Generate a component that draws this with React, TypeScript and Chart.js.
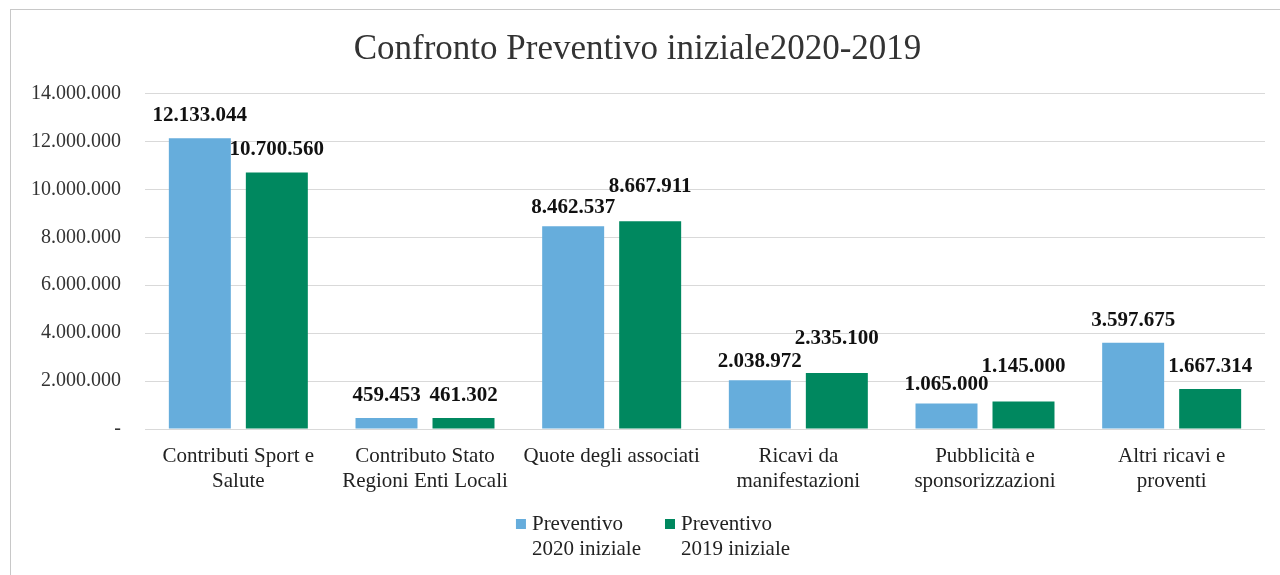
import React, { useEffect, useRef } from "react";
import { Chart, registerables } from "chart.js";

Chart.register(...registerables);

const categories: string[][] = [
  ["Contributi Sport e", "Salute"],
  ["Contributo Stato", "Regioni Enti Locali"],
  ["Quote degli associati"],
  ["Ricavi da", "manifestazioni"],
  ["Pubblicità e", "sponsorizzazioni"],
  ["Altri ricavi e", "proventi"],
];
const preventivo2020 = [12133044, 459453, 8462537, 2038972, 1065000, 3597675];
const preventivo2019 = [10700560, 461302, 8667911, 2335100, 1145000, 1667314];
const seriesLabels: string[][] = [
  ["Preventivo", "2020 iniziale"],
  ["Preventivo", "2019 iniziale"],
];
const titleText = "Confronto Preventivo iniziale2020-2019";
const yMax = 14000000;
const yStep = 2000000;

const FONT = "'Liberation Serif', 'DejaVu Serif', serif";
const BLUE = "#66ADDC";
const GREEN = "#00885F";

function fmt(n: number): string {
  if (n === 0) return "-";
  return String(Math.round(n)).replace(/\B(?=(\d{3})+(?!\d))/g, ".");
}

const framePlugin = {
  id: "frame",
  beforeDraw(chart: any) {
    const ctx = chart.ctx;
    ctx.save();
    ctx.fillStyle = "#ffffff";
    ctx.fillRect(0, 0, chart.width, chart.height);
    ctx.strokeStyle = "#c8c8c8";
    ctx.lineWidth = 1;
    ctx.strokeRect(10.5, 9.5, chart.width + 20, chart.height + 20);
    ctx.restore();
  },
};

const valueLabelPlugin = {
  id: "valueLabels",
  afterDatasetsDraw(chart: any) {
    const ctx = chart.ctx;
    const fontSize = 21;
    ctx.save();
    ctx.font = `bold ${fontSize}px ${FONT}`;
    ctx.fillStyle = "#111111";
    ctx.textAlign = "center";
    ctx.textBaseline = "bottom";
    const base = 12;
    const metaA = chart.getDatasetMeta(0);
    const metaB = chart.getDatasetMeta(1);
    const dsA = chart.data.datasets[0].data;
    const dsB = chart.data.datasets[1].data;
    metaA.data.forEach((elA: any, i: number) => {
      const elB = metaB.data[i];
      const tA = fmt(dsA[i]);
      const tB = fmt(dsB[i]);
      const rightA = elA.x + ctx.measureText(tA).width / 2;
      const leftB = elB.x - ctx.measureText(tB).width / 2;
      let offA = base;
      let offB = base;
      const hOverlap = rightA > leftB - 2;
      const vOverlap = Math.abs(elA.y - elB.y) < fontSize;
      if (hOverlap && vOverlap) {
        // labels collide: lift the label of the taller bar
        if (elA.y < elB.y) {
          offA += 12;
          offB -= 4;
        } else {
          offB += 12;
          offA -= 4;
        }
      }
      ctx.fillText(tA, elA.x, elA.y - offA);
      ctx.fillText(tB, elB.x, elB.y - offB);
    });
    ctx.restore();
  },
};

const legendPlugin = {
  id: "customLegend",
  afterDraw(chart: any) {
    const ctx = chart.ctx;
    ctx.save();
    ctx.font = `21px ${FONT}`;
    ctx.textBaseline = "middle";
    ctx.textAlign = "left";
    const box = 10;
    const gap = 6;
    const spacing = 24;
    const items = chart.data.datasets.map((ds: any) => {
      const lines: string[] = ds.labelLines;
      const w = Math.max(...lines.map((l: string) => ctx.measureText(l).width));
      return { lines, w, color: ds.backgroundColor };
    });
    const total =
      items.reduce((s: number, it: any) => s + box + gap + it.w, 0) +
      spacing * (items.length - 1);
    let x = 653 - total / 2;
    const y0 = 524;
    const lh = 25;
    items.forEach((it: any) => {
      ctx.fillStyle = it.color;
      ctx.fillRect(x, y0 - box / 2, box, box);
      ctx.fillStyle = "#222222";
      it.lines.forEach((l: string, k: number) => {
        ctx.fillText(l, x + box + gap, y0 + k * lh);
      });
      x += box + gap + it.w + spacing;
    });
    ctx.restore();
  },
};

export default function App() {
  const ref = useRef<HTMLCanvasElement | null>(null);
  useEffect(() => {
    if (!ref.current) return;
    const chart = new Chart(ref.current, {
      type: "bar",
      data: {
        labels: categories,
        datasets: [
          {
            label: seriesLabels[0].join(" "),
            labelLines: seriesLabels[0],
            data: preventivo2020,
            backgroundColor: BLUE,
            categoryPercentage: 0.825,
            barPercentage: 0.805,
          } as any,
          {
            label: seriesLabels[1].join(" "),
            labelLines: seriesLabels[1],
            data: preventivo2019,
            backgroundColor: GREEN,
            categoryPercentage: 0.825,
            barPercentage: 0.805,
          } as any,
        ],
      },
      options: {
        animation: false,
        responsive: false,
        layout: { padding: { left: 10, right: 15, top: 0, bottom: 0 } },
        plugins: {
          legend: { display: false },
          tooltip: { enabled: false },
          title: {
            display: true,
            text: titleText,
            color: "#333333",
            font: { family: FONT, size: 35, weight: "normal", lineHeight: 1.1 },
            padding: { top: 31, bottom: 24 },
          },
        },
        scales: {
          x: {
            grid: { display: false },
            border: { display: false },
            ticks: {
              color: "#222222",
              font: { family: FONT, size: 21, lineHeight: 1.2 },
              padding: 7,
              maxRotation: 0,
              autoSkip: false,
            },
            afterFit(scale: any) {
              scale.height = 146;
            },
          },
          y: {
            min: 0,
            max: yMax,
            grid: { color: "#d9d9d9", drawTicks: false },
            border: { display: false },
            ticks: {
              stepSize: yStep,
              color: "#333333",
              font: { family: FONT, size: 20 },
              padding: 24,
              callback: (v: any) => fmt(Number(v)),
            },
            afterFit(scale: any) {
              scale.width = 135;
            },
          },
        },
      },
      plugins: [framePlugin, valueLabelPlugin, legendPlugin],
    });
    return () => chart.destroy();
  }, []);
  return (
    <div style={{ position: "fixed", left: 0, top: 0, width: 1280, height: 575 }}>
      <canvas ref={ref} width={1280} height={575} style={{ width: 1280, height: 575 }} />
    </div>
  );
}
